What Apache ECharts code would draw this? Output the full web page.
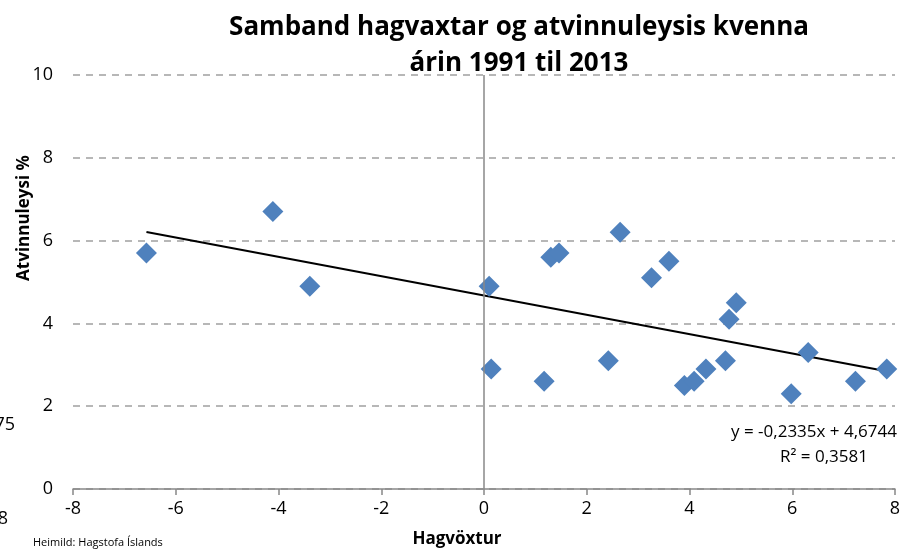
<!DOCTYPE html>
<html>
<head>
<meta charset="utf-8">
<script src="https://cdn.jsdelivr.net/npm/echarts@6/dist/echarts.min.js"></script>
<style>
  html, body { margin: 0; padding: 0; background: #fff; }
  #chart { width: 918px; height: 549px; }
</style>
</head>
<body>
<div id="chart"></div>
<script>
// Hagvöxtur (x) og atvinnuleysi kvenna (y), 1991-2013
var hagvoxtur = [-6.57, -4.11, -3.39, 0.10, 0.14, 1.17, 1.30, 1.46, 2.42, 2.65, 3.26,
  3.60, 3.90, 4.09, 4.32, 4.70, 4.77, 4.91, 5.98, 6.31, 7.23, 7.84];
var atvinnuleysi = [5.7, 6.7, 4.9, 4.9, 2.9, 2.6, 5.6, 5.7, 3.1, 6.2, 5.1,
  5.5, 2.5, 2.6, 2.9, 3.1, 4.1, 4.5, 2.3, 3.3, 2.6, 2.9];
var xTicks = [-8, -6, -4, -2, 0, 2, 4, 6, 8];
var yTicks = [0, 2, 4, 6, 8, 10];
// línuleg leitni úr Excel
var trendSlope = -0.2335;
var trendIntercept = 4.6744;
var rSquared = 0.3581;

var points = hagvoxtur.map(function (x, i) {
  return [x, atvinnuleysi[i]];
});
var xMin = Math.min.apply(null, hagvoxtur);
var xMax = Math.max.apply(null, hagvoxtur);
var trend = [
  [xMin, trendSlope * xMin + trendIntercept],
  [xMax, trendSlope * xMax + trendIntercept]
];
function fmt(v) {
  return String(v).replace(".", ",");
}

var chart = echarts.init(document.getElementById("chart"));
var font = "'Open Sans', 'Noto Sans', sans-serif";
var option = {
  animation: false,
  textStyle: { fontFamily: font },
  title: {
    text: "Samband hagvaxtar og atvinnuleysis kvenna\nárin 1991 til 2013",
    left: 514,
    top: 5,
    textAlign: "center",
    textStyle: {
      fontFamily: font,
      fontWeight: "bold",
      fontSize: 26,
      lineHeight: 36,
      color: "#000"
    }
  },
  grid: {
    left: 73,
    right: 23,
    top: 75,
    bottom: 60
  },
  xAxis: {
    type: "value",
    min: xTicks[0],
    max: xTicks[xTicks.length - 1],
    interval: 2,
    axisLine: { onZero: true, lineStyle: { color: "#888", width: 1.5 } },
    axisTick: { show: true, inside: false, length: 6, lineStyle: { color: "#888", width: 1.5 } },
    axisLabel: { color: "#000", fontSize: 18, margin: 11 },
    splitLine: { show: false }
  },
  yAxis: {
    type: "value",
    min: yTicks[0],
    max: yTicks[yTicks.length - 1],
    interval: 2,
    axisLine: { show: false },
    axisTick: { show: false },
    axisLabel: { color: "#000", fontSize: 18, margin: 20 },
    splitLine: {
      show: true,
      lineStyle: { color: "#a0a0a0", width: 1.5, type: [7, 6] }
    }
  },
  series: [
    {
      type: "line",
      data: trend,
      showSymbol: false,
      symbol: "none",
      lineStyle: { color: "#000", width: 2 },
      z: 3,
      // lóðrétti ásinn við x = 0
      markLine: {
        silent: true,
        symbol: "none",
        label: { show: false },
        lineStyle: { color: "#888", width: 1.5, type: "solid" },
        data: [{ xAxis: 0 }]
      }
    },
    {
      type: "scatter",
      data: points,
      symbol: "diamond",
      symbolSize: [21, 21],
      itemStyle: { color: "#4F81BD", opacity: 1 },
      z: 4
    }
  ],
  graphic: [
    {
      type: "text",
      rotation: Math.PI / 2,
      x: 24,
      y: 218,
      style: {
        text: "Atvinnuleysi %",
        font: "bold 17px " + font,
        fill: "#000",
        align: "center",
        verticalAlign: "middle"
      }
    },
    {
      type: "text",
      x: 457,
      y: 539,
      style: {
        text: "Hagvöxtur",
        font: "bold 17px " + font,
        fill: "#000",
        align: "center",
        verticalAlign: "middle"
      }
    },
    {
      type: "text",
      x: 33,
      y: 543,
      style: {
        text: "Heimild: Hagstofa Íslands",
        font: "11px " + font,
        fill: "#000",
        align: "left",
        verticalAlign: "middle"
      }
    },
    {
      type: "text",
      x: 15,
      y: 425,
      style: {
        text: "75",
        font: "18px " + font,
        fill: "#000",
        align: "right",
        verticalAlign: "middle"
      }
    },
    {
      type: "text",
      x: 8,
      y: 519,
      style: {
        text: "8",
        font: "18px " + font,
        fill: "#000",
        align: "right",
        verticalAlign: "middle"
      }
    },
    {
      type: "text",
      x: 897,
      y: 432,
      style: {
        text: "y = " + fmt(trendSlope) + "x + " + fmt(trendIntercept),
        font: "17px " + font,
        fill: "#000",
        align: "right",
        verticalAlign: "middle"
      }
    },
    {
      type: "text",
      x: 824,
      y: 457,
      style: {
        text: "R² = " + fmt(rSquared),
        font: "17px " + font,
        fill: "#000",
        align: "center",
        verticalAlign: "middle"
      }
    }
  ]
};
chart.setOption(option);
window.addEventListener("resize", function () {
  chart.resize();
});
</script>
</body>
</html>
